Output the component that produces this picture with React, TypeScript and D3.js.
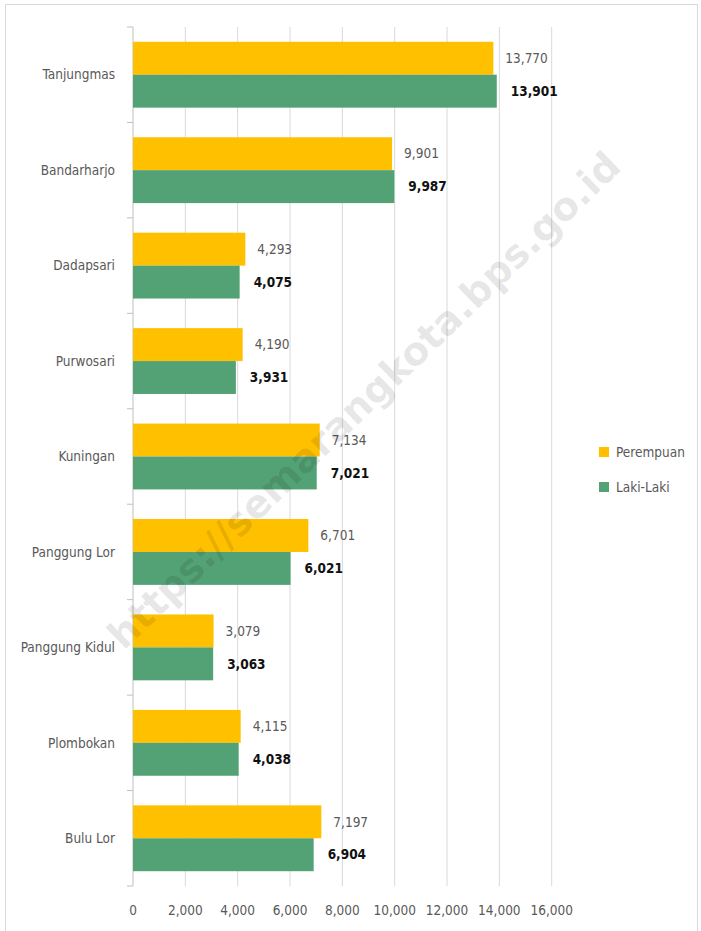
import * as d3 from "d3";
import { useEffect, useRef } from "react";

const categories = [
  "Tanjungmas",
  "Bandarharjo",
  "Dadapsari",
  "Purwosari",
  "Kuningan",
  "Panggung Lor",
  "Panggung Kidul",
  "Plombokan",
  "Bulu Lor",
];
const perempuan = [13770, 9901, 4293, 4190, 7134, 6701, 3079, 4115, 7197];
const lakiLaki = [13901, 9987, 4075, 3931, 7021, 6021, 3063, 4038, 6904];
const xTicks = [0, 2000, 4000, 6000, 8000, 10000, 12000, 14000, 16000];
const seriesNames = ["Perempuan", "Laki-Laki"];

const FONT = "'DejaVu Sans Condensed', 'DejaVu Sans', sans-serif";

export default function App() {
  const ref = useRef<SVGSVGElement | null>(null);

  useEffect(() => {
    const el = ref.current;
    if (!el) return;
    const svg = d3.select(el);
    svg.selectAll("*").remove();

    const W = 701;
    const H = 931;
    const left = 133;
    const top = 27;
    const iw = 551.7 - left;
    const ih = 886 - top;
    const colors = ["#FFC000", "#53A275"];

    // outer frame
    svg
      .append("rect")
      .attr("x", 5.5)
      .attr("y", 4.5)
      .attr("width", 692)
      .attr("height", H)
      .attr("fill", "#fff")
      .attr("stroke", "#d9d9d9");

    const x = d3.scaleLinear().domain([0, 16000]).range([0, iw]);
    const y = d3.scaleBand<string>().domain(categories).range([0, ih]).paddingInner(0.31).paddingOuter(0.155);
    const sub = d3.scaleBand<number>().domain([0, 1]).range([0, y.bandwidth()]);

    const g = svg.append("g").attr("transform", `translate(${left},${top})`);

    const txt = (sel: d3.Selection<any, any, any, any>) =>
      sel
        .attr("font-family", FONT)
        .style("font-stretch", "condensed")
        .attr("font-size", 13.5);

    // vertical grid
    g.append("g")
      .selectAll("line")
      .data(xTicks.slice(1))
      .join("line")
      .attr("x1", (d) => x(d))
      .attr("x2", (d) => x(d))
      .attr("y1", 0)
      .attr("y2", ih)
      .attr("stroke", "#d9d9d9")
      .attr("stroke-width", 1);

    // category axis line + ticks
    g.append("line")
      .attr("x1", 0)
      .attr("x2", 0)
      .attr("y1", 0)
      .attr("y2", ih)
      .attr("stroke", "#bfbfbf");
    const step = y.step();
    g.append("g")
      .selectAll("line")
      .data(d3.range(categories.length + 1))
      .join("line")
      .attr("x1", -6)
      .attr("x2", 0)
      .attr("y1", (i) => i * step)
      .attr("y2", (i) => i * step)
      .attr("stroke", "#bfbfbf");

    // bars
    const series = [perempuan, lakiLaki];
    series.forEach((vals, si) => {
      g.append("g")
        .selectAll("rect")
        .data(vals)
        .join("rect")
        .attr("x", 0)
        .attr("y", (_, i) => (y(categories[i]) ?? 0) + (sub(si) ?? 0))
        .attr("width", (d) => x(d))
        .attr("height", sub.bandwidth())
        .attr("fill", colors[si]);

      g.append("g")
        .selectAll("text")
        .data(vals)
        .join("text")
        .attr("x", (d) => x(d) + (si === 0 ? 12 : 14))
        .attr("y", (_, i) => (y(categories[i]) ?? 0) + (sub(si) ?? 0) + sub.bandwidth() / 2)
        .attr("dy", "0.35em")
        .call(txt)
        .attr("font-weight", si === 0 ? 400 : 700)
        .attr("fill", si === 0 ? "#595959" : "#111")
        .text((d) => d3.format(",")(d));
    });

    // category labels
    g.append("g")
      .selectAll("text")
      .data(categories)
      .join("text")
      .attr("x", -18)
      .attr("y", (d) => (y(d) ?? 0) + y.bandwidth() / 2)
      .attr("dy", "0.35em")
      .attr("text-anchor", "end")
      .call(txt)
      .attr("fill", "#595959")
      .text((d) => d);

    // x tick labels
    g.append("g")
      .selectAll("text")
      .data(xTicks)
      .join("text")
      .attr("x", (d) => x(d))
      .attr("y", ih + 24)
      .attr("dy", "0.35em")
      .attr("text-anchor", "middle")
      .call(txt)
      .attr("fill", "#595959")
      .text((d) => d3.format(",")(d));

    // legend
    const lg = svg.append("g").attr("transform", "translate(604,452)");
    seriesNames.forEach((name, i) => {
      lg.append("rect")
        .attr("x", -5)
        .attr("y", i * 35 - 5)
        .attr("width", 10)
        .attr("height", 10)
        .attr("fill", colors[i]);
      lg.append("text")
        .attr("x", 12)
        .attr("y", i * 35)
        .attr("dy", "0.35em")
        .call(txt)
        .attr("fill", "#595959")
        .text(name);
    });

    // watermark
    svg
      .append("text")
      .attr("transform", "translate(364,400) rotate(-44)")
      .attr("text-anchor", "middle")
      .attr("dy", "0.35em")
      .attr("font-family", "'DejaVu Sans', sans-serif")
      .attr("font-size", 39)
      .attr("font-weight", 700)
      .attr("fill", "#000")
      .attr("fill-opacity", 0.1)
      .text("https://semarangkota.bps.go.id");

    svg.attr("viewBox", `0 0 ${W} ${H}`);
  }, []);

  return (
    <svg
      ref={ref}
      width={701}
      height={931}
      style={{ position: "absolute", left: 0, top: 0, display: "block" }}
    />
  );
}
